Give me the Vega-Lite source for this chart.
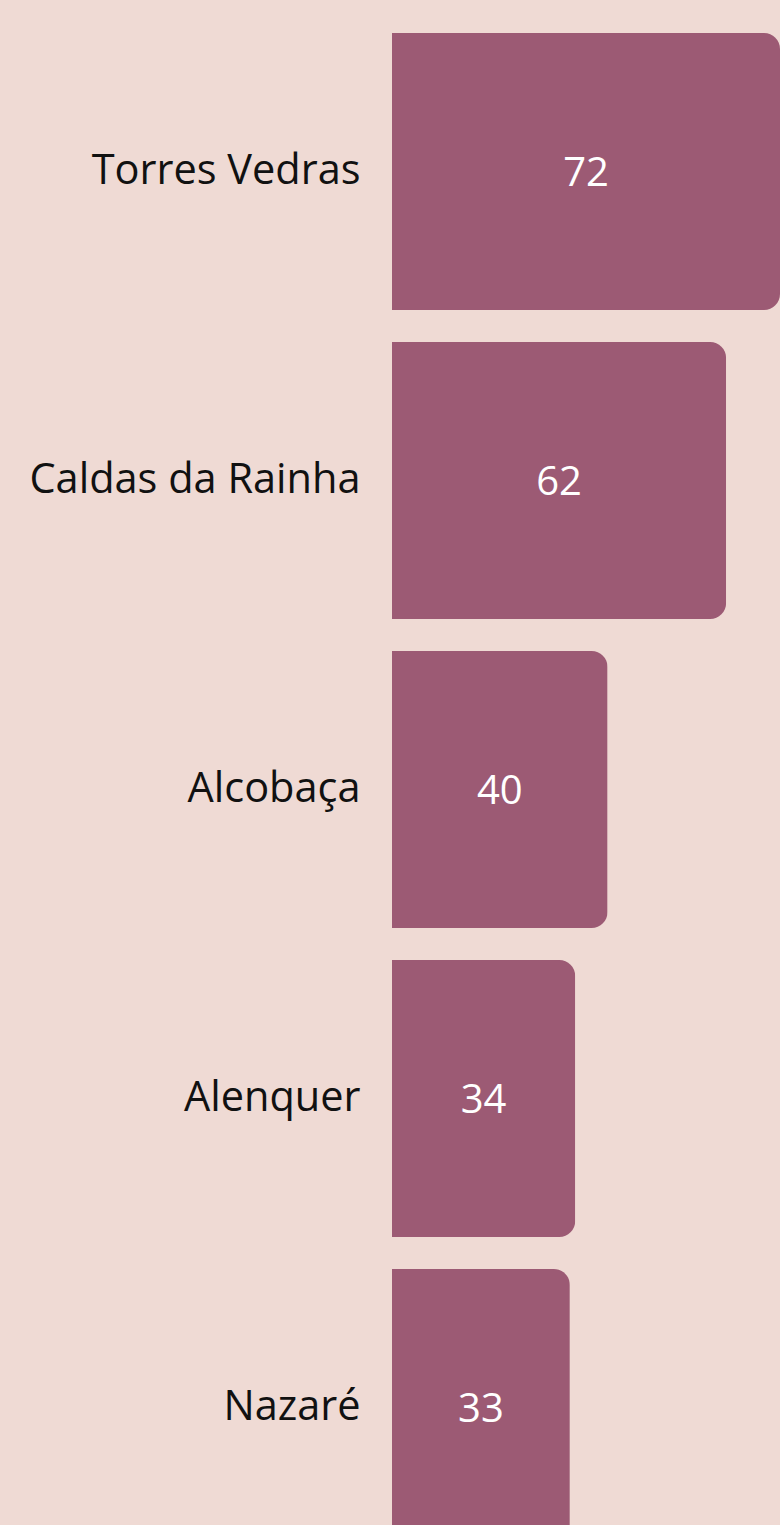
{
  "$schema": "https://vega.github.io/schema/vega-lite/v6.json",
  "autosize": "none",
  "padding": {"left": 392, "top": 17, "right": 0, "bottom": 0},
  "width": 388,
  "height": 1545,
  "background": "#EFDAD4",
  "config": {"view": {"stroke": null}},
  "data": {"values": [
    {"city": "Torres Vedras", "value": 72},
    {"city": "Caldas da Rainha", "value": 62},
    {"city": "Alcobaça", "value": 40},
    {"city": "Alenquer", "value": 34},
    {"city": "Nazaré", "value": 33}
  ]},
  "encoding": {
    "y": {"field": "city", "type": "nominal", "sort": null,
      "scale": {"paddingInner": 0.1036, "paddingOuter": 0.0518},
      "axis": {"title": null, "ticks": false, "domain": false, "labelPadding": 32,
        "labelFont": "Open Sans", "labelFontSize": 41.5, "labelColor": "#111111", "labelFontWeight": "normal", "labelLimit": 400}}
  },
  "layer": [
    {"mark": {"type": "bar", "color": "#9C5A74", "cornerRadiusTopRight": 16, "cornerRadiusBottomRight": 16},
     "encoding": {"x": {"field": "value", "type": "quantitative", "scale": {"domain": [0, 72], "nice": false}, "axis": null}}},
    {"mark": {"type": "text", "color": "#FFFFFF", "font": "Open Sans", "fontSize": 40, "align": "center", "baseline": "middle", "dy": 2},
     "encoding": {"x": {"field": "value", "type": "quantitative", "scale": {"domain": [0, 144], "nice": false}, "axis": null}, "text": {"field": "value", "type": "quantitative"}}}
  ],
  "resolve": {"scale": {"x": "independent"}}
}
